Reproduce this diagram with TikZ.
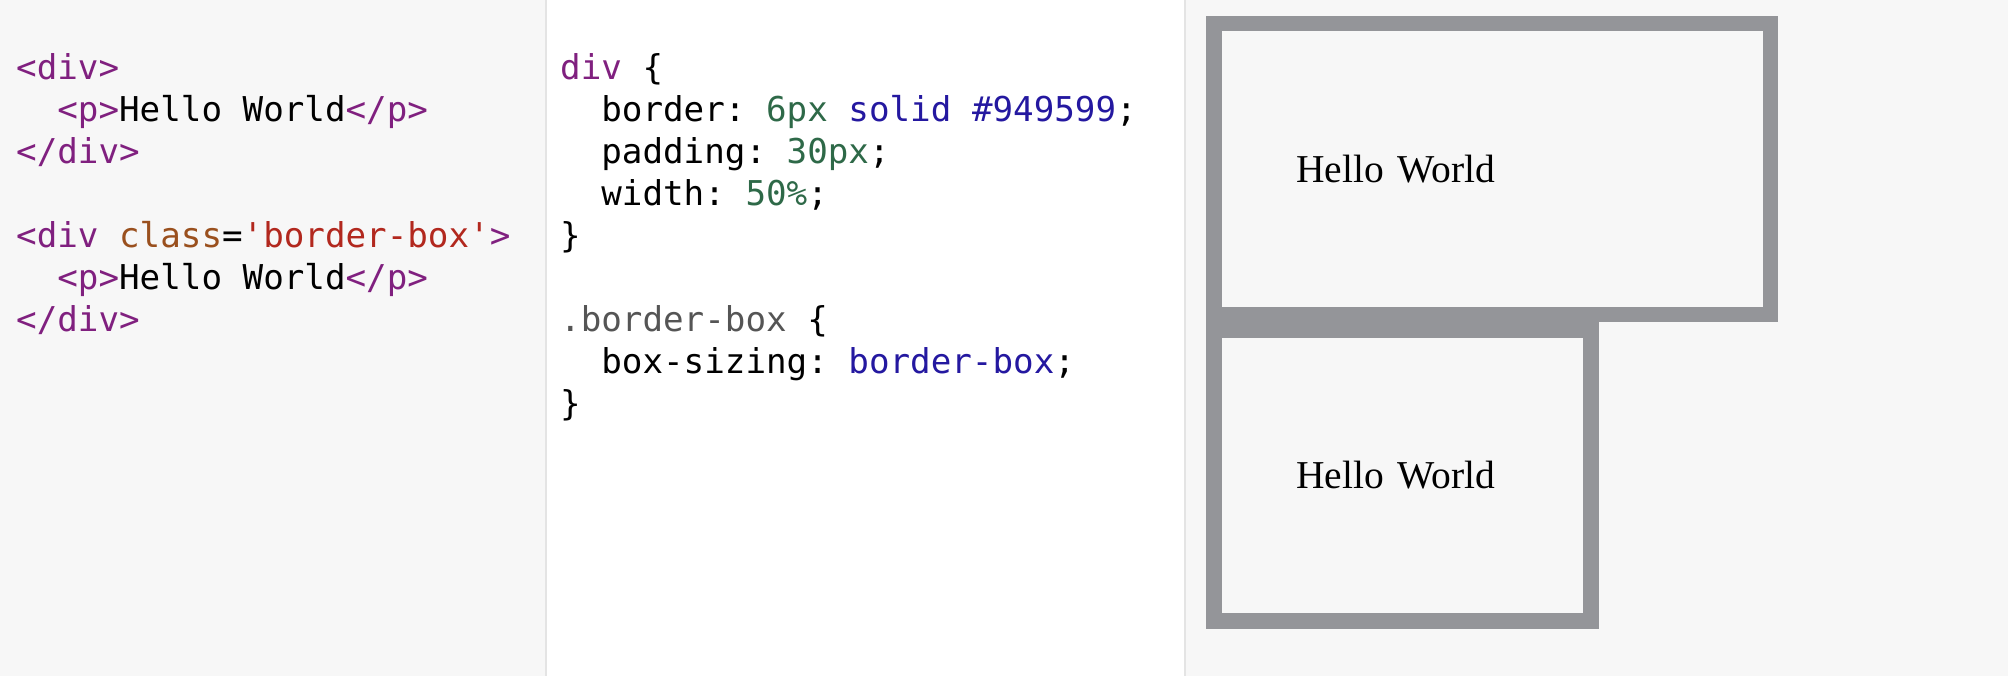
\documentclass[tikz,border=0pt]{standalone}
\usepackage{fontspec}
\setmainfont{Liberation Serif}
\setmonofont{DejaVu Sans Mono}
\usetikzlibrary{positioning}

\definecolor{panelgray}{HTML}{F7F7F7}
\definecolor{dividergray}{HTML}{E4E4E4}
\definecolor{bordergray}{HTML}{949599}
\definecolor{tagc}{HTML}{80207F}
\definecolor{attrc}{HTML}{9A501E}
\definecolor{stringc}{HTML}{B2281E}
\definecolor{numberc}{HTML}{2E6948}
\definecolor{atomc}{HTML}{2418A0}
\definecolor{qualc}{HTML}{555555}

\newcommand{\tg}[1]{\textcolor{tagc}{#1}}
\newcommand{\attr}[1]{\textcolor{attrc}{#1}}
\newcommand{\str}[1]{\textcolor{stringc}{#1}}
\newcommand{\num}[1]{\textcolor{numberc}{#1}}
\newcommand{\atm}[1]{\textcolor{atomc}{#1}}
\newcommand{\qual}[1]{\textcolor{qualc}{#1}}
\newcommand{\ind}{\hphantom{xx}}

\begin{document}
\begin{tikzpicture}[x=1pt,y=-1pt,
    codeline/.style={anchor=base west, inner sep=0pt, font=\ttfamily\fontsize{34.2}{42}\selectfont},
    divbox/.style={draw=bordergray, line width=15.5pt, fill=panelgray, anchor=north west,
        outer sep=0pt, inner xsep=82pt, inner ysep=0pt, align=left, minimum height=291pt,
        font=\fontsize{39.5}{47}\selectfont}]
    \useasboundingbox (0,0) rectangle (2008,676);

    % panels
    \fill [ panelgray ] (0,0) rectangle (546,676);
    \fill [ white ] (546,0) rectangle (1185,676);
    \fill [ panelgray ] (1185,0) rectangle (2008,676);
    \draw [ dividergray,line width=2pt ] (546,0) -- (546,676);
    \draw [ dividergray,line width=2pt ] (1185,0) -- (1185,676);

    % html
    \node [ codeline ] (html1) at (16,79.5) {\tg{<div>}};
    \node [ codeline ] (html2) at (16,121.5) {\ind\tg{<p>}Hello World\tg{</p>}};
    \node [ codeline ] (html3) at (16,163.5) {\tg{</div>}};
    \node [ codeline ] (html5) at (16,247.5) {\tg{<div} \attr{class}=\str{'border-box'}\tg{>}};
    \node [ codeline ] (html6) at (16,289.5) {\ind\tg{<p>}Hello World\tg{</p>}};
    \node [ codeline ] (html7) at (16,331.5) {\tg{</div>}};

    % css
    \node [ codeline ] (css1) at (560,79.5) {\tg{div} \{};
    \node [ codeline ] (css2) at (560,121.5) {\ind border: \num{6px} \atm{solid} \atm{\#949599};};
    \node [ codeline ] (css3) at (560,163.5) {\ind padding: \num{30px};};
    \node [ codeline ] (css4) at (560,205.5) {\ind width: \num{50\%};};
    \node [ codeline ] (css5) at (560,247.5) {\}};
    \node [ codeline ] (css7) at (560,331.5) {\qual{.border-box} \{};
    \node [ codeline ] (css8) at (560,373.5) {\ind box-sizing: \atm{border-box};};
    \node [ codeline ] (css9) at (560,415.5) {\}};

    % result
    \node [ divbox,text width=392.2pt ] (box1) at (1214.2,23.5) {Hello World};
    \node [ divbox,text width=212.7pt,below=15.5pt of box1.south west,anchor=north west ] (box2) {Hello World};
\end{tikzpicture}
\end{document}
